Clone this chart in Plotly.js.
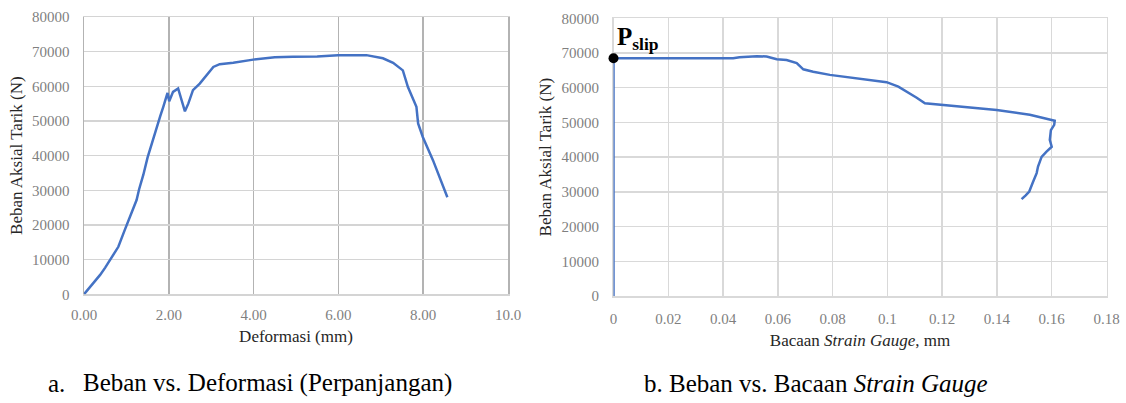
<!DOCTYPE html>
<html>
<head>
<meta charset="utf-8">
<script src="https://cdn.plot.ly/plotly-3.0.1.min.js"></script>
<style>
html,body{margin:0;padding:0;background:#fff;}
#chart{width:1126px;height:403px;}
</style>
</head>
<body>
<div id="chart"></div>
<script>
// Chart a: Beban vs. Deformasi
const defX = [0, 0.2, 0.38, 0.5, 0.61, 0.72, 0.81, 0.96, 1.12, 1.24, 1.30, 1.40, 1.50, 1.62, 1.71, 1.80, 1.87, 1.95, 1.97, 2.01, 2.10, 2.22, 2.30, 2.38, 2.46, 2.57, 2.73, 2.89, 3.05, 3.20, 3.52, 3.99, 4.5, 4.93, 5.5, 5.99, 6.66, 7.05, 7.29, 7.52, 7.64, 7.84, 7.88, 7.99, 8.23, 8.57];
const defY = [0, 2800, 5600, 7700, 9900, 12000, 13700, 18500, 23300, 27200, 30300, 34500, 39500, 44500, 48300, 51500, 54100, 57600, 58100, 55700, 58400, 59400, 56000, 52800, 55000, 58900, 60800, 63200, 65600, 66400, 66800, 67700, 68400, 68500, 68600, 69000, 69000, 68100, 66800, 64600, 59800, 54100, 49300, 45400, 38700, 28000];

// Chart b: Beban vs. Bacaan Strain Gauge
const sgX = [0, 0, 0.010, 0.030, 0.0437, 0.046, 0.0523, 0.0559, 0.0596, 0.0632, 0.0669, 0.0693, 0.0729, 0.079, 0.0912, 0.0997, 0.104, 0.107, 0.1107, 0.1137, 0.124, 0.1399, 0.152, 0.1611, 0.1609, 0.1597, 0.1593, 0.16, 0.1581, 0.1563, 0.155, 0.1545, 0.1532, 0.1518, 0.1505, 0.149];
const sgY = [0, 68500, 68500, 68500, 68500, 68800, 69100, 69000, 68200, 68000, 67100, 65300, 64600, 63700, 62500, 61600, 60300, 58900, 57100, 55500, 54800, 53600, 52200, 50500, 49300, 47800, 45000, 43000, 41600, 40100, 37300, 35400, 32900, 30100, 29000, 27900];

// P slip point
const slipX = [0];
const slipY = [68500];
const slipLabel = "P";
const slipSub = "slip";

// ticks
const yTickVals = [0, 10000, 20000, 30000, 40000, 50000, 60000, 70000, 80000];
const yTickText = ["0", "10000", "20000", "30000", "40000", "50000", "60000", "70000", "80000"];
const defTickVals = [0, 2, 4, 6, 8, 10];
const defTickText = ["0.00", "2.00", "4.00", "6.00", "8.00", "10.0"];
const sgTickVals = [0, 0.02, 0.04, 0.06, 0.08, 0.10, 0.12, 0.14, 0.16, 0.18];
const sgTickText = ["0", "0.02", "0.04", "0.06", "0.08", "0.1", "0.12", "0.14", "0.16", "0.18"];

// text
const yTitle = "Beban Aksial Tarik (N)";
const xTitleA = "Deformasi (mm)";
const xTitleB = "Bacaan <i>Strain Gauge</i>, mm";
const capALetter = "a.";
const capA = "Beban vs. Deformasi (Perpanjangan)";
const capB = "b. Beban vs. Bacaan <i>Strain Gauge</i>";

const W = 1126, H = 403;
const px = v => v / W;
const py = v => 1 - v / H;

const SERIF = "Liberation Serif";
const blue = "#4472c4";
const tickFont = {family: SERIF, size: 15, color: "#7f7f7f"};
const titleFont = {family: SERIF, size: 17, color: "#262626"};

const traces = [
  {x: defX, y: defY, xaxis: "x", yaxis: "y", type: "scatter", mode: "lines",
   line: {color: blue, width: 2.5}, hoverinfo: "skip", cliponaxis: false},
  {x: sgX, y: sgY, xaxis: "x2", yaxis: "y2", type: "scatter", mode: "lines",
   line: {color: blue, width: 2.5}, hoverinfo: "skip", cliponaxis: false},
  {x: slipX, y: slipY, xaxis: "x2", yaxis: "y2", type: "scatter", mode: "markers",
   marker: {color: "#000", size: 10}, hoverinfo: "skip", cliponaxis: false}
];

const gridV = "#b3b3b3";
const gridH = "#d4d4d4";
const gridB = "#d9d9d9";

const layout = {
  width: W, height: H,
  margin: {l: 0, r: 0, t: 0, b: 0},
  paper_bgcolor: "#fff", plot_bgcolor: "#fff",
  showlegend: false,
  font: {family: SERIF},
  xaxis: {
    domain: [px(84), px(508)], anchor: "y", range: [0, 10],
    tickvals: defTickVals, ticktext: defTickText, tickfont: tickFont,
    showgrid: true, gridcolor: gridV, gridwidth: 1.5,
    showline: true, linecolor: gridH, linewidth: 1.5, mirror: true, layer: "below traces",
    zeroline: false, ticks: "", ticklabelstandoff: 6, fixedrange: true,
    title: {text: xTitleA, font: titleFont, standoff: 8}
  },
  yaxis: {
    domain: [py(294.3), py(17)], anchor: "x", range: [0, 80000],
    tickvals: yTickVals, ticktext: yTickText, tickfont: tickFont,
    showgrid: true, gridcolor: gridH, gridwidth: 1.5,
    showline: true, linecolor: gridV, linewidth: 1.5, mirror: true, layer: "below traces",
    zeroline: false, ticks: "", ticklabelstandoff: 10, fixedrange: true,
    title: {text: yTitle, font: titleFont, standoff: 5}
  },
  xaxis2: {
    domain: [px(613.5), px(1106.5)], anchor: "y2", range: [0, 0.18],
    tickvals: sgTickVals, ticktext: sgTickText, tickfont: tickFont,
    showgrid: true, gridcolor: gridB, gridwidth: 1.5,
    showline: true, linecolor: gridB, linewidth: 1.5, mirror: true, layer: "below traces",
    zeroline: false, ticks: "", ticklabelstandoff: 8, fixedrange: true,
    title: {text: xTitleB, font: titleFont, standoff: 8}
  },
  yaxis2: {
    domain: [py(296), py(18.3)], anchor: "x2", range: [0, 80000],
    tickvals: yTickVals, ticktext: yTickText, tickfont: tickFont,
    showgrid: true, gridcolor: gridB, gridwidth: 1.5,
    showline: true, linecolor: gridB, linewidth: 1.5, mirror: true, layer: "below traces",
    zeroline: false, ticks: "", ticklabelstandoff: 10, fixedrange: true,
    title: {text: yTitle, font: titleFont, standoff: 5}
  },
  annotations: [
    {xref: "paper", yref: "paper", x: px(615), y: py(38), xanchor: "left", yanchor: "middle",
     text: "<b>" + slipLabel + "<sub>" + slipSub + "</sub></b>", showarrow: false,
     font: {family: SERIF, size: 25, color: "#000"}},
    {xref: "paper", yref: "paper", x: px(46), y: py(383), xanchor: "left", yanchor: "middle",
     text: capALetter, showarrow: false, font: {family: SERIF, size: 25, color: "#000"}},
    {xref: "paper", yref: "paper", x: px(81), y: py(383), xanchor: "left", yanchor: "middle",
     text: capA, showarrow: false, font: {family: SERIF, size: 25, color: "#000"}},
    {xref: "paper", yref: "paper", x: px(816), y: py(383), xanchor: "center", yanchor: "middle",
     text: capB, showarrow: false, font: {family: SERIF, size: 25, color: "#000"}}
  ]
};

Plotly.newPlot("chart", traces, layout, {staticPlot: true, displayModeBar: false});
</script>
</body>
</html>
